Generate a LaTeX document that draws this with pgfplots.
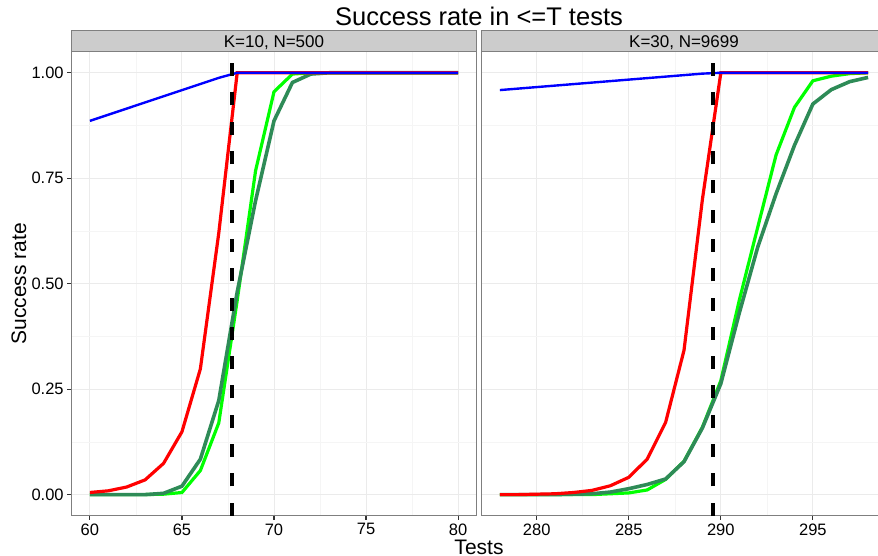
\documentclass[border=0pt]{standalone}
\usepackage{fontspec}
\setmainfont{Liberation Sans}
\usepackage{pgfplots}
\pgfplotsset{compat=1.18}

\definecolor{gridmaj}{HTML}{EBEBEB}
\definecolor{gridmin}{HTML}{F5F5F5}
\definecolor{frame}{HTML}{7F7F7F}
\definecolor{stripfill}{HTML}{CCCCCC}
\definecolor{tickcol}{HTML}{333333}
\definecolor{seagreen}{HTML}{2E8B57}
\definecolor{lime}{HTML}{00FF00}

\pgfplotsset{
  facet/.style={
    scale only axis, width=405pt, height=464pt,
    anchor=south west,
    ymin=-0.05, ymax=1.05,
    ytick={0,0.25,0.5,0.75,1},
    minor x tick num=1, minor y tick num=1,
    grid=both,
    major grid style={gridmaj, line width=1pt},
    minor grid style={gridmin, line width=0.55pt},
    minor tick length=0pt,
    axis line style={frame, line width=1.1pt},
    tick align=outside, tick pos=left,
    major tick length=4.3pt,
    tick style={tickcol, line width=1.1pt},
    /pgf/number format/assume math mode=true,
    ticklabel style={font=\fontsize{16.5}{16.5}\selectfont, text=black},
    clip=true,
  },
  red line/.style={red, line width=3.2pt},
  blue line/.style={blue, line width=2.4pt},
  lime line/.style={lime, line width=3.2pt},
  sea line/.style={seagreen, line width=3.6pt},
  vline/.style={black, line width=4pt, dash pattern=on 13pt off 16.3pt},
}

\begin{document}
\begin{tikzpicture}[x=1pt,y=1pt]
\clip (0,0) rectangle (878,556);

% left panel: K=10, N=500
\begin{axis}[facet, at={(71.5pt,40.3pt)},
  xmin=59, xmax=81, xtick={60,65,70,75,80},
  yticklabels={0.00,0.25,0.50,0.75,1.00}]
\addplot[lime line] coordinates {
  (60,0) (61,0) (62,0) (63,0) (64,0.001) (65,0.005) (66,0.057) (67,0.17)
  (68,0.46) (69,0.768) (70,0.955) (71,0.997) (72,1) (73,1) (74,1) (75,1)
  (76,1) (77,1) (78,1) (79,1) (80,1)};
\addplot[sea line] coordinates {
  (60,0) (61,0) (62,0) (63,0) (64,0.003) (65,0.02) (66,0.084) (67,0.223)
  (68,0.48) (69,0.697) (70,0.886) (71,0.977) (72,0.997) (73,1) (74,1) (75,1)
  (76,1) (77,1) (78,1) (79,1) (80,1)};
\addplot[red line] coordinates {
  (60,0.005) (61,0.009) (62,0.018) (63,0.035) (64,0.074) (65,0.149)
  (66,0.298) (67,0.62) (68,1) (69,1) (70,1) (71,1) (72,1) (73,1) (74,1)
  (75,1) (76,1) (77,1) (78,1) (79,1) (80,1)};
\addplot[blue line] coordinates {
  (60,0.886) (67,0.988) (68,1) (80,1)};
\addplot[vline] coordinates {(67.71,-0.05) (67.71,1.05)};
\end{axis}

% right panel: K=30, N=9699
\begin{axis}[facet, at={(481.5pt,40.3pt)},
  xmin=277, xmax=299, xtick={280,285,290,295},
  yticklabels={}, y tick style={draw=none}]
\addplot[lime line] coordinates {
  (278,0) (279,0) (280,0) (281,0) (282,0) (283,0) (284,0.002) (285,0.004)
  (286,0.011) (287,0.036) (288,0.079) (289,0.16) (290,0.27) (291,0.46)
  (292,0.633) (293,0.805) (294,0.918) (295,0.981) (296,0.992) (297,0.998)
  (298,1)};
\addplot[sea line] coordinates {
  (278,0) (279,0) (280,0) (281,0) (282,0.001) (283,0.002) (284,0.006)
  (285,0.014) (286,0.024) (287,0.037) (288,0.078) (289,0.158) (290,0.263)
  (291,0.43) (292,0.586) (293,0.713) (294,0.828) (295,0.926) (296,0.96)
  (297,0.979) (298,0.989)};
\addplot[red line] coordinates {
  (278,0) (279,0) (280,0.001) (281,0.002) (282,0.005) (283,0.01)
  (284,0.021) (285,0.041) (286,0.084) (287,0.171) (288,0.342) (289,0.7)
  (290,1) (291,1) (292,1) (293,1) (294,1) (295,1) (296,1) (297,1) (298,1)};
\addplot[blue line] coordinates {
  (278,0.959) (289,0.998) (290,1) (298,1)};
\addplot[vline] coordinates {(289.55,-0.05) (289.55,1.05)};
\end{axis}

% facet strips
\draw[fill=stripfill, draw=frame, line width=1.1pt] (71.5,504.3) rectangle (476.5,525.3);
\draw[fill=stripfill, draw=frame, line width=1.1pt] (481.5,504.3) rectangle (886.5,525.3);
\node[anchor=base, inner sep=0pt, font=\fontsize{17}{17}\selectfont] at (274,508.6) {K=10, N=500};
\node[anchor=base, inner sep=0pt, font=\fontsize{17}{17}\selectfont] at (684,508.6) {K=30, N=9699};

% titles
\node[anchor=base, inner sep=0pt, font=\fontsize{25.5}{25.5}\selectfont] at (479,530) {Success rate in <=T tests};
\node[anchor=base, inner sep=0pt, font=\fontsize{21}{21}\selectfont] at (479,1.5) {Tests};
\node[anchor=base, rotate=90, inner sep=0pt, font=\fontsize{21}{21}\selectfont] at (26,272.3) {Success rate};
\end{tikzpicture}
\end{document}
